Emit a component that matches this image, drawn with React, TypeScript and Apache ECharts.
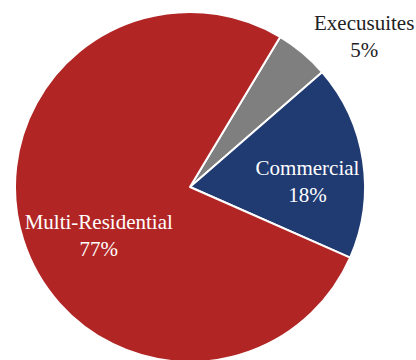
import React, { useEffect, useRef } from "react";
import * as echarts from "echarts";

const categories = ["Execusuites", "Commercial", "Multi-Residential"];
const values = [5, 18, 77];
const colors = ["#7f7f7f", "#203a72", "#b12625"];

export default function App() {
  const ref = useRef<HTMLDivElement>(null);
  useEffect(() => {
    document.body.style.margin = "0";
    const chart = echarts.init(ref.current!, null, { renderer: "svg" });
    const shifts = [
      { dx: 116, dy: -81 },
      { dx: 28, dy: 8 },
      { dx: -5, dy: 21 },
    ];
    chart.setOption({
      animation: false,
      backgroundColor: "#ffffff",
      series: [
        {
          type: "pie",
          center: [190, 187],
          radius: 175,
          startAngle: 59,
          clockwise: true,
          avoidLabelOverlap: false,
          data: categories.map((name, i) => ({
            name,
            value: values[i],
            itemStyle: { color: colors[i] },
            label: { color: i === 0 ? "#222222" : "#ffffff" },
          })),
          itemStyle: { borderColor: "#ffffff", borderWidth: 2 },
          label: {
            show: true,
            position: "inside",
            formatter: "{b}\n{d}%",
            fontFamily: "Liberation Serif",
            fontSize: 21,
            lineHeight: 27,
            align: "center",
          },
          labelLine: { show: false },
          labelLayout: (p: any) => shifts[p.dataIndex],
          emphasis: { disabled: true },
        },
      ],
    });
    return () => chart.dispose();
  }, []);
  return <div ref={ref} style={{ width: 416, height: 360 }} />;
}
